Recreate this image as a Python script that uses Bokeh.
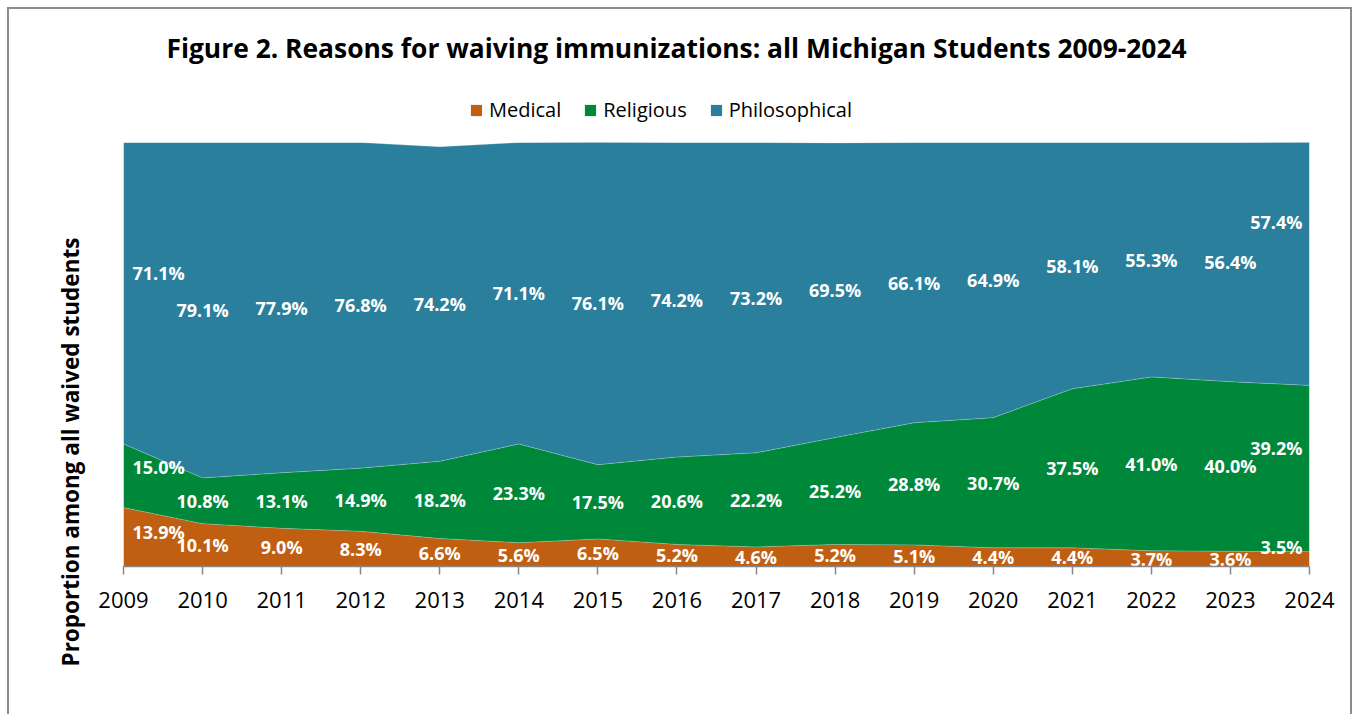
import pandas as pd
from bokeh.plotting import figure
from bokeh.layouts import column
from bokeh.models import ColumnDataSource, Range1d, FixedTicker, Legend, LegendItem, Label, Title
from bokeh.core.properties import value
from bokeh.embed import file_html
from bokeh.resources import INLINE

# ---------------- data ----------------
years = list(range(2009, 2025))
medical = [13.9, 10.1, 9.0, 8.3, 6.6, 5.6, 6.5, 5.2, 4.6, 5.2, 5.1, 4.4, 4.4, 3.7, 3.6, 3.5]
religious = [15.0, 10.8, 13.1, 14.9, 18.2, 23.3, 17.5, 20.6, 22.2, 25.2, 28.8, 30.7, 37.5, 41.0, 40.0, 39.2]
philosophical = [71.1, 79.1, 77.9, 76.8, 74.2, 71.1, 76.1, 74.2, 73.2, 69.5, 66.1, 64.9, 58.1, 55.3, 56.4, 57.4]
series_names = ["Medical", "Religious", "Philosophical"]
title_text = "Figure 2. Reasons for waiving immunizations: all Michigan Students 2009-2024"
y_label_text = "Proportion among all waived students"

# ---------------- styles ----------------
colors = ["#C05F12", "#00883A", "#2A7F9D"]
FONT = "Open Sans"
first_dy = [-5, -9, -20]
last_dy = [-12, -21, -42]

TOTAL_W = 1341
HEAD_H = 133
BODY_H = 572
BORDER_L, BORDER_R = 114, 41
FRAME_W = TOTAL_W - BORDER_L - BORDER_R

df = pd.DataFrame({"year": years, "Medical": medical,
                   "Religious": religious, "Philosophical": philosophical})
src = ColumnDataSource(df)

# ---------------- header: title + legend (frame aligned with the chart's frame) ----------------
head = figure(width=TOTAL_W, height=HEAD_H, output_backend="svg", toolbar_location=None,
              x_range=Range1d(0, FRAME_W), y_range=Range1d(0, HEAD_H),
              x_axis_location=None, y_axis_location=None, title=None,
              min_border_left=BORDER_L, min_border_right=BORDER_R,
              min_border_top=0, min_border_bottom=0)
head.outline_line_color = None
head.xgrid.visible = False
head.ygrid.visible = False
head.add_layout(Label(x=553, y=95, text=title_text, text_align="center",
                      text_baseline="middle", text_font=FONT, text_font_style="bold",
                      text_font_size="26.4px", text_color="#000000"))
# legend swatches come from copies of the stacked areas (outside the header's range)
swatches = head.varea_stack(stackers=series_names, x="year", color=colors, source=src)
items = [LegendItem(label=n, renderers=[r]) for n, r in zip(series_names, swatches)]
leg = Legend(items=items, orientation="horizontal", location=(346, 19),
             border_line_color=None, background_fill_alpha=0, padding=0, margin=0,
             spacing=22, label_standoff=6, glyph_width=14, glyph_height=14,
             label_height=20, label_text_font=FONT, label_text_font_size="20px",
             label_text_color="#000000", label_text_baseline="middle")
head.add_layout(leg, "center")

# ---------------- main chart ----------------
p = figure(width=TOTAL_W, height=BODY_H, output_backend="svg",
           toolbar_location=None, title=None,
           x_range=Range1d(years[0], years[-1]), y_range=Range1d(0, 100),
           y_axis_location=None,
           min_border_left=BORDER_L, min_border_right=BORDER_R, min_border_top=0,
           min_border_bottom=148)
p.outline_line_color = None
p.xgrid.visible = False
p.ygrid.visible = False

p.varea_stack(stackers=series_names, x="year", color=colors, source=src)

cum = [0.0] * len(years)
bases = []
for vals in (medical, religious, philosophical):
    bases.append(list(cum))
    cum = [c + v for c, v in zip(cum, vals)]
    p.line(years, cum, line_color="white", line_alpha=0.25, line_width=1)

lx, ly, lt, la, lxo, lyo = [], [], [], [], [], []
for k, vals in enumerate((medical, religious, philosophical)):
    for i, (yr, v) in enumerate(zip(years, vals)):
        lx.append(yr)
        ly.append(bases[k][i] + v / 2.0)
        lt.append(f"{v:.1f}%")
        if i == 0:
            la.append("left"); lxo.append(9); lyo.append(first_dy[k])
        elif i == len(years) - 1:
            la.append("right"); lxo.append(-7); lyo.append(last_dy[k])
        else:
            la.append("center"); lxo.append(0); lyo.append(0)
lsrc = ColumnDataSource(dict(x=lx, y=ly, t=lt, a=la, xo=lxo, yo=lyo))
p.text(x="x", y="y", text="t", source=lsrc, text_align="a", x_offset="xo", y_offset="yo",
       text_baseline="middle", text_color="white", text_font=value(FONT),
       text_font_style="bold", text_font_size="18px")

ax = p.xaxis[0]
ax.ticker = FixedTicker(ticks=years)
ax.axis_line_color = "#868686"
ax.axis_line_width = 1.5
ax.major_tick_line_color = "#868686"
ax.major_tick_line_width = 1.5
ax.major_tick_out = 8
ax.major_tick_in = 0
ax.minor_tick_line_color = None
ax.major_label_text_font = FONT
ax.major_label_text_font_size = "22px"
ax.major_label_text_color = "#000000"
ax.major_label_standoff = 17

# y-axis title, placed in the left panel and started below the frame like the original
p.add_layout(Title(text=y_label_text, align="left", offset=-100, vertical_align="middle",
                   standoff=73, text_font=FONT, text_font_style="bold",
                   text_font_size="22.5px", text_color="#000000"), "left")

layout = column(head, p, spacing=0)
layout.margin = (7, 0, 0, 7)
layout.styles = {"border-left": "2px solid #8c8c8c", "border-top": "2px solid #8c8c8c",
                 "border-right": "2px solid #8c8c8c"}

open("out.html", "w").write(file_html(layout, INLINE))
